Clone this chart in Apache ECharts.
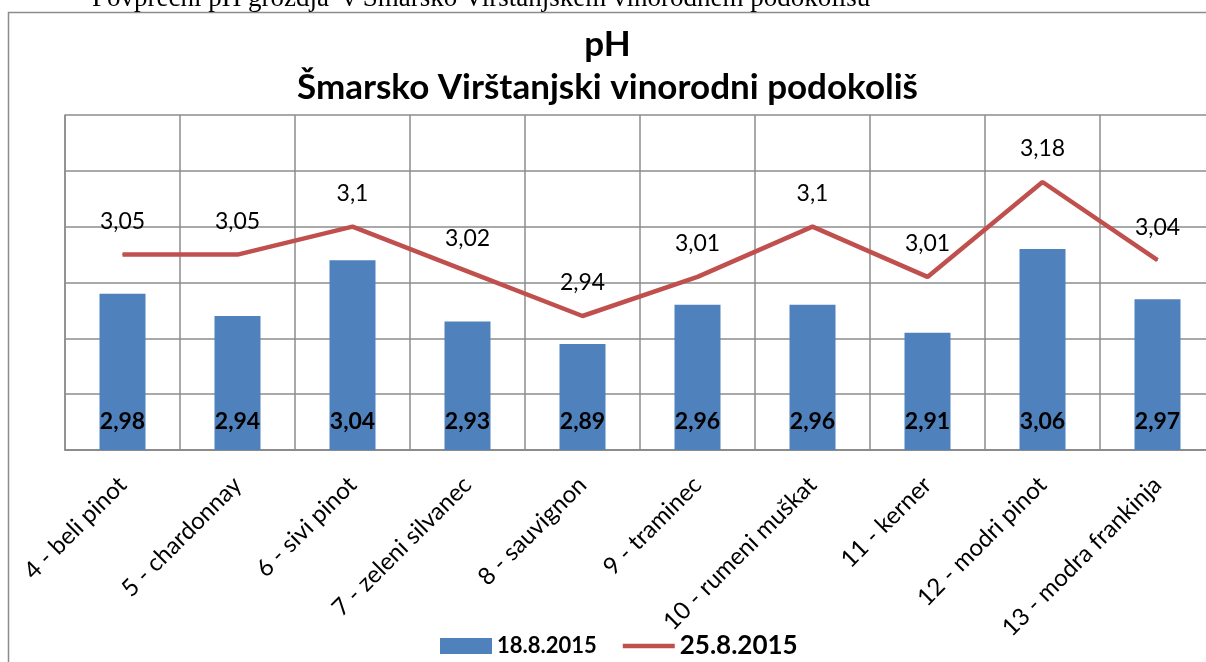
<!DOCTYPE html>
<html><head><meta charset="utf-8">
<script src="https://cdn.jsdelivr.net/npm/echarts@6/dist/echarts.min.js"></script>
<style>html,body{margin:0;padding:0;background:#fff}#c{width:1206px;height:662px}</style>
</head><body><div id="c"></div>
<script>
const categories = ['4 - beli pinot','5 - chardonnay','6 - sivi pinot','7 - zeleni silvanec','8 - sauvignon','9 - traminec','10 - rumeni muškat','11 - kerner','12 - modri pinot','13 - modra frankinja'];
const series1Name = '18.8.2015';
const series2Name = '25.8.2015';
const values18 = [2.98,2.94,3.04,2.93,2.89,2.96,2.96,2.91,3.06,2.97];
const values25 = [3.05,3.05,3.1,3.02,2.94,3.01,3.1,3.01,3.18,3.04];
const yMin = 2.7, yMax = 3.3, yStep = 0.1;
const titleLine1 = 'pH';
const titleLine2 = 'Šmarsko Virštanjski vinorodni podokoliš';
const captionText = 'Povprečni pH grozdja  v Šmarsko Virštanjskem vinorodnem podokolišu';
const fmt = v => String(v).replace('.', ',');
const F = 'Lato, "Open Sans", sans-serif';
const chart = echarts.init(document.getElementById('c'));
chart.setOption({
  animation:false,
  backgroundColor:'#fff',
  graphic:[
    {type:'rect',shape:{x:8.5,y:12.5,width:1300,height:800},style:{fill:'none',stroke:'#8c8c8c',lineWidth:1.5},z:-1},
    {type:'text',x:92,y:-1,style:{text:captionText,font:'27px "Liberation Serif", serif',fill:'#000',verticalAlign:'middle'}},
    {type:'text',x:607.5,y:45,style:{text:titleLine1,font:'bold 35px Lato, sans-serif',fill:'#000',align:'center',verticalAlign:'middle'}},
    {type:'text',x:607.5,y:88,style:{text:titleLine2,font:'bold 35px Lato, sans-serif',fill:'#000',align:'center',verticalAlign:'middle'}}
  ],
  legend:{left:440,top:633,padding:0,itemWidth:52,itemHeight:16,itemGap:26,
    data:[{name:series1Name,icon:'rect',textStyle:{fontSize:22,fontWeight:'bold',fontFamily:F,color:'#000'}},
          {name:series2Name,icon:'path://M0 0H110V10H0Z',textStyle:{fontSize:26,fontWeight:'bold',fontFamily:F,color:'#000'}}]},
  grid:{left:65,width:1150,top:115,bottom:212,containLabel:false,outerBoundsMode:'none'},
  xAxis:{type:'category',data:categories,boundaryGap:true,
    axisLine:{lineStyle:{color:'#8c8c8c',width:2}},axisTick:{show:false},
    splitLine:{show:true,lineStyle:{color:'#8c8c8c',width:1.5}},
    axisLabel:{rotate:45,fontSize:24,fontFamily:F,color:'#000',margin:31,interval:0}},
  yAxis:{type:'value',min:yMin,max:yMax,interval:yStep,
    axisLine:{show:true,lineStyle:{color:'#8c8c8c',width:1.5}},axisLabel:{show:false},axisTick:{show:false},
    splitLine:{lineStyle:{color:'#8c8c8c',width:1.5}}},
  series:[
    {name:series1Name,type:'bar',data:values18,barWidth:46,itemStyle:{color:'#4F81BD'},
     label:{show:true,position:'insideBottom',distance:17,formatter:p=>fmt(p.value),fontFamily:F,fontWeight:'bold',fontSize:23,color:'#000'}},
    {name:series2Name,type:'line',data:values25,symbol:'circle',symbolSize:1,showSymbol:true,lineStyle:{color:'#C0504D',width:4.5},itemStyle:{color:'#C0504D'},
     label:{show:true,position:'top',distance:21,formatter:p=>fmt(p.value),fontFamily:F,fontSize:23,color:'#000'}}
  ]
});
</script></body></html>
